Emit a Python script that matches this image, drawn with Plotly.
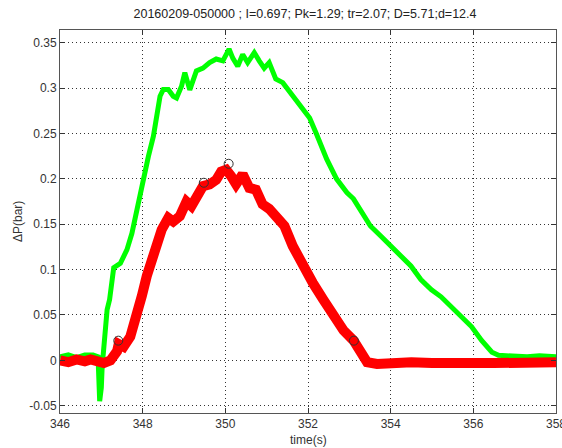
import plotly.graph_objects as go

title_text = "20160209-050000 ; I=0.697; Pk=1.29; tr=2.07; D=5.71;d=12.4"
x_title = "time(s)"
y_title = "ΔP(bar)"

green_t = [346.0, 346.2, 346.4, 346.6, 346.8, 346.92, 346.96, 347.0, 347.02, 347.07, 347.14,
           347.2, 347.3, 347.46, 347.62, 347.74, 347.86, 348.0, 348.14, 348.26, 348.34, 348.42,
           348.5, 348.62, 348.74, 348.82, 348.94, 349.02, 349.14, 349.3, 349.46, 349.62, 349.78,
           349.94, 350.09, 350.18, 350.3, 350.42, 350.54, 350.7, 350.82, 350.94, 351.06, 351.22,
           351.39, 351.54, 351.63, 351.88, 352.04, 352.2, 352.45, 352.69, 352.94, 353.1, 353.27,
           353.51, 353.76, 354.0, 354.24, 354.49, 354.73, 354.98, 355.22, 355.47, 355.71, 355.96,
           356.2, 356.45, 356.61, 356.94, 357.3, 357.6, 358.0]
green_v = [0.004, 0.006, 0.003, 0.006, 0.006, 0.004, -0.045, -0.03, -0.007, 0.019, 0.056,
           0.067, 0.102, 0.107, 0.122, 0.14, 0.166, 0.199, 0.225, 0.247, 0.269, 0.291,
           0.2985, 0.2985, 0.291, 0.289, 0.302, 0.317, 0.298, 0.319, 0.322, 0.328, 0.332,
           0.33, 0.343, 0.333, 0.324, 0.337, 0.328, 0.339, 0.330, 0.322, 0.328, 0.31,
           0.306, 0.297, 0.293, 0.276, 0.267, 0.25, 0.222, 0.2, 0.185, 0.178, 0.165,
           0.148, 0.137, 0.126, 0.115, 0.104, 0.089, 0.078, 0.07, 0.059, 0.048, 0.037,
           0.022, 0.009, 0.0055, 0.0045, 0.004, 0.005, 0.004]

red_t = [346.0, 346.2, 346.4, 346.6, 346.74, 346.9, 347.06, 347.22, 347.38, 347.42, 347.54,
         347.7, 347.86, 347.98, 348.1, 348.22, 348.34, 348.46, 348.62, 348.74, 348.9, 349.06,
         349.18, 349.3, 349.46, 349.62, 349.78, 349.9, 350.02, 350.14, 350.26, 350.42, 350.58,
         350.74, 350.9, 351.06, 351.31, 351.43, 351.63, 351.88, 352.12, 352.37, 352.61, 352.86,
         353.1, 353.27, 353.43, 353.67, 354.0, 354.5, 355.0, 355.5, 356.0, 356.5, 357.0, 357.5, 358.0]
red_v = [0.0, -0.002, 0.001, -0.001, 0.001, -0.002, -0.003, 0.0, 0.01, 0.018, 0.015,
         0.026, 0.049, 0.071, 0.093, 0.111, 0.129, 0.144, 0.157, 0.153, 0.159, 0.175,
         0.17, 0.181, 0.192, 0.194, 0.199, 0.208, 0.21, 0.203, 0.194, 0.205, 0.19,
         0.188, 0.172, 0.167, 0.156, 0.148, 0.126, 0.104, 0.085, 0.067, 0.048, 0.033,
         0.022, 0.007, -0.002, -0.004, -0.003, -0.002, -0.003, -0.002, -0.003, -0.003, -0.002, -0.003, -0.002]

marker_t = [347.41, 349.48, 350.08, 353.11]
marker_v = [0.0217, 0.1957, 0.2166, 0.0217]

x_ticks = [346, 348, 350, 352, 354, 356, 358]
y_ticks = [-0.05, 0, 0.05, 0.1, 0.15, 0.2, 0.25, 0.3, 0.35]
y_tick_labels = ["-0.05", "0", "0.05", "0.1", "0.15", "0.2", "0.25", "0.3", "0.35"]

FONT = "Liberation Sans, Arial, sans-serif"

fig = go.Figure()
fig.add_trace(go.Scatter(x=green_t, y=green_v, mode="lines",
                         line=dict(color="#00ff00", width=5), showlegend=False))
fig.add_trace(go.Scatter(x=red_t, y=red_v, mode="lines",
                         line=dict(color="#ff0000", width=10), showlegend=False))
fig.add_trace(go.Scatter(x=marker_t, y=marker_v, mode="markers",
                         marker=dict(symbol="circle-open", size=9, color="#333",
                                     line=dict(width=1, color="#333")),
                         showlegend=False))

axis_common = dict(showline=True, linecolor="#555", linewidth=1, mirror="allticks",
                   ticks="inside", ticklen=5, tickcolor="#333", showgrid=True,
                   gridcolor="#333", griddash="1px,3px", gridwidth=1, zeroline=False,
                   automargin=False, ticklabeloverflow="allow",
                   tickfont=dict(family=FONT, size=12, color="#333"))

fig.update_xaxes(range=[346, 358], tickvals=x_ticks, ticktext=[str(v) for v in x_ticks],
                 **axis_common)
fig.update_yaxes(range=[-0.058, 0.364], tickvals=y_ticks, ticktext=y_tick_labels,
                 **axis_common)

plot_w = 562 - 60 - 6
plot_h = 448 - 30 - 35

fig.update_layout(
    width=562, height=448,
    margin=dict(l=60, r=6, t=30, b=35),
    paper_bgcolor="white", plot_bgcolor="white",
    title=dict(text=title_text, x=305 / 562, xanchor="center", xref="container",
               y=1 - 14 / 448, yanchor="middle", yref="container",
               font=dict(family=FONT, size=12.5, color="#222")),
    annotations=[
        dict(text=x_title, x=0.5, xref="paper", y=-(440 - 413) / plot_h, yref="paper",
             yanchor="middle", showarrow=False, font=dict(family=FONT, size=12, color="#333")),
        dict(text=y_title, x=-(60 - 18) / plot_w, xref="paper", xanchor="center",
             y=(413 - 222) / plot_h, yref="paper", yanchor="middle",
             showarrow=False, textangle=-90, font=dict(family=FONT, size=12, color="#333")),
    ],
)

fig.write_html("out.html", config={"displayModeBar": False},
               post_script="document.body.style.margin='0';")
